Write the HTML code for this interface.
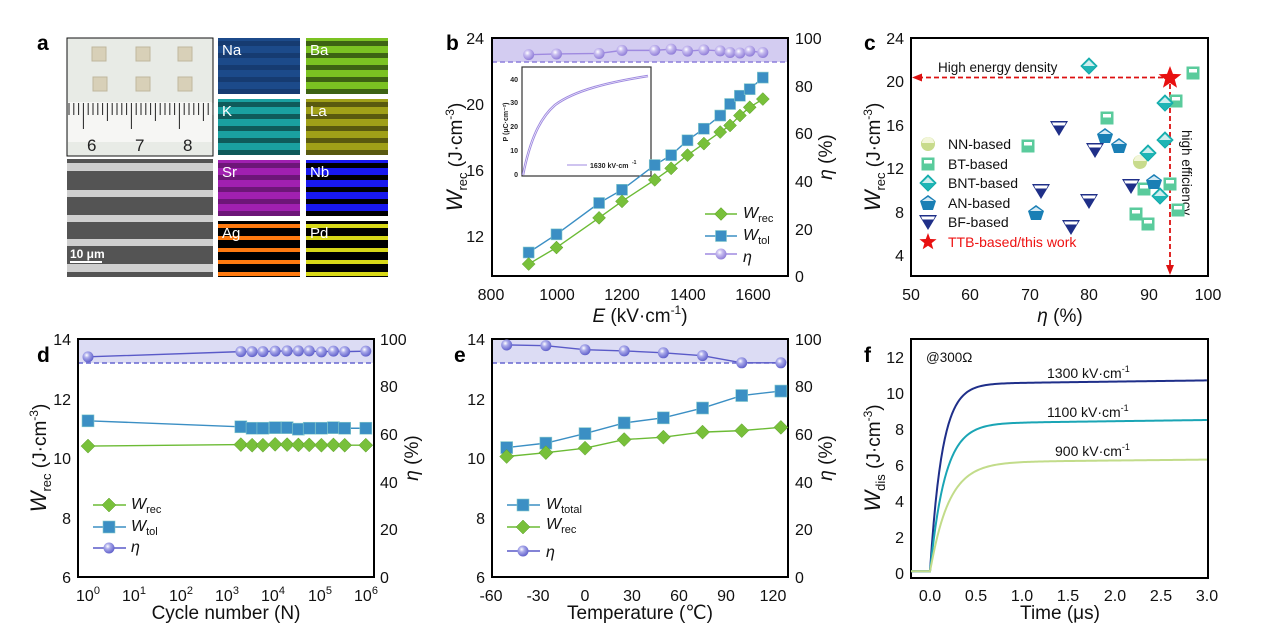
<!DOCTYPE html>
<html><head><meta charset="utf-8"><style>
html,body{margin:0;padding:0;background:#fff}
svg{display:block;font-family:"Liberation Sans",Arial,sans-serif}
.t{font-size:16px;fill:#111}
.ti{font-size:19px;fill:#111}
.lg{font-size:14px;fill:#111}
.pl{font-size:21px;font-weight:bold;fill:#000}
.ax{fill:none;stroke:#000;stroke-width:2}
</style></head><body>
<svg id="s" width="1269" height="634" viewBox="0 0 1269 634" xmlns="http://www.w3.org/2000/svg">
<defs>
<radialGradient id="gp" cx="0.38" cy="0.35" r="0.7"><stop offset="0" stop-color="#fff"/><stop offset="0.35" stop-color="#c8bdf0"/><stop offset="1" stop-color="#8b78d6"/></radialGradient>
<radialGradient id="gb" cx="0.38" cy="0.35" r="0.7"><stop offset="0" stop-color="#fff"/><stop offset="0.35" stop-color="#a9a9ea"/><stop offset="1" stop-color="#5a5ac8"/></radialGradient>
</defs>
<!-- panel a -->
<text class="pl" x="37" y="50">a</text>
<rect x="67" y="38" width="146" height="118" fill="#e8ebe6" stroke="#111" stroke-width="1"/>
<rect x="68" y="102" width="144" height="40" fill="#f6f6f4"/>
<g fill="#d8d0b8" stroke="#bfb79e"><rect x="92" y="47" width="14" height="14"/><rect x="136" y="47" width="14" height="14"/><rect x="178" y="47" width="14" height="14"/><rect x="93" y="77" width="14" height="14"/><rect x="136" y="77" width="14" height="14"/><rect x="178" y="77" width="14" height="14"/></g>
<g id="ruler" stroke="#222" stroke-width="1"></g>
<g font-size="17" fill="#222"><text x="87" y="151">6</text><text x="135" y="151">7</text><text x="183" y="151">8</text></g>
<rect x="67" y="159" width="146" height="118" fill="#545454"/>
<g fill="#cfcfcf"><rect x="67" y="163" width="146" height="8"/><rect x="67" y="190" width="146" height="7"/><rect x="67" y="215" width="146" height="7"/><rect x="67" y="239" width="146" height="7"/><rect x="67" y="264" width="146" height="8"/></g>
<text x="70" y="258" font-size="12" font-weight="bold" fill="#fff">10 μm</text>
<rect x="70" y="261" width="32" height="2" fill="#fff"/>
<g id="maps"></g>
<!-- panel b -->
<text class="pl" x="446" y="50">b</text>
<rect x="492" y="38" width="296" height="24" fill="#d3ccf1"/>
<line x1="492" y1="62" x2="788" y2="62" stroke="#8d7fdc" stroke-width="1.5" stroke-dasharray="5,3"/>
<rect x="522" y="67" width="129" height="109" fill="#fff" stroke="#333" stroke-width="1.2"/>
<path d="M523,175 C530,140 540,118 555,105 C575,90 610,82 648,76" fill="none" stroke="#9f8ae0" stroke-width="2.5"/>
<path d="M523,175 C530,140 540,118 555,105 C575,90 610,82 648,76" fill="none" stroke="#fff" stroke-width="0.6"/>
<g font-size="7" font-weight="bold" fill="#222"><text x="518" y="177" text-anchor="end">0</text><text x="518" y="153" text-anchor="end">10</text><text x="518" y="129" text-anchor="end">20</text><text x="518" y="105" text-anchor="end">30</text><text x="518" y="82" text-anchor="end">40</text>
<text x="590" y="168">1630 kV·cm</text><text x="632" y="164" font-size="5">-1</text>
<text transform="translate(508,122) rotate(-90)" font-size="7" text-anchor="middle">P (μC·cm⁻²)</text></g>
<line x1="567" y1="165" x2="587" y2="165" stroke="#9f8ae0" stroke-width="1"/>
<rect class="ax" x="492" y="38" width="296" height="238"/>
<g class="t" text-anchor="end"><text x="484" y="44">24</text><text x="484" y="110">20</text><text x="484" y="176">16</text><text x="484" y="242">12</text></g>
<g class="t"><text x="795" y="44">100</text><text x="795" y="92">80</text><text x="795" y="139">60</text><text x="795" y="187">40</text><text x="795" y="235">20</text><text x="795" y="282">0</text></g>
<g class="t" text-anchor="middle"><text x="491" y="300">800</text><text x="557" y="300">1000</text><text x="622" y="300">1200</text><text x="688" y="300">1400</text><text x="753" y="300">1600</text></g>
<text class="ti" x="640" y="322" text-anchor="middle"><tspan font-style="italic">E</tspan> (kV·cm<tspan font-size="12" dy="-8">-1</tspan><tspan dy="8">)</tspan></text>
<text class="ti" transform="translate(462,157) rotate(-90)" text-anchor="middle"><tspan font-style="italic" font-size="22">W</tspan><tspan font-size="13" dy="5">rec</tspan><tspan dy="-5"> (J·cm</tspan><tspan font-size="12" dy="-8">-3</tspan><tspan dy="8">)</tspan></text>
<text class="ti" transform="translate(832,157) rotate(-90)" text-anchor="middle"><tspan font-style="italic">η</tspan> (%)</text>
<g class="lg"><text x="743" y="218" font-style="italic" font-size="16">W<tspan font-size="11" font-style="normal" dy="4">rec</tspan></text><text x="743" y="240" font-style="italic" font-size="16">W<tspan font-size="11" font-style="normal" dy="4">tol</tspan></text><text x="743" y="262" font-style="italic" font-size="16">η</text></g>
<g id="gb_"></g>
<!-- panel c -->
<text class="pl" x="864" y="50">c</text>
<rect class="ax" x="911" y="38" width="297" height="238"/>
<g class="t" text-anchor="end"><text x="904" y="44">24</text><text x="904" y="87">20</text><text x="904" y="131">16</text><text x="904" y="174">12</text><text x="904" y="218">8</text><text x="904" y="261">4</text></g>
<g class="t" text-anchor="middle"><text x="911" y="300">50</text><text x="970" y="300">60</text><text x="1030" y="300">70</text><text x="1089" y="300">80</text><text x="1149" y="300">90</text><text x="1208" y="300">100</text></g>
<text class="ti" x="1060" y="322" text-anchor="middle"><tspan font-style="italic">η</tspan> (%)</text>
<text class="ti" transform="translate(880,157) rotate(-90)" text-anchor="middle"><tspan font-style="italic" font-size="22">W</tspan><tspan font-size="13" dy="5">rec</tspan><tspan dy="-5"> (J·cm</tspan><tspan font-size="12" dy="-8">-3</tspan><tspan dy="8">)</tspan></text>
<text x="938" y="72" font-size="13.5" fill="#111">High energy density</text>
<text transform="translate(1182,130) rotate(90)" font-size="13.5" fill="#111">high efficiency</text>
<g stroke="#d11" stroke-width="1.8" stroke-dasharray="5,3" fill="none"><line x1="918" y1="77.5" x2="1166" y2="77.5"/><line x1="1170" y1="84" x2="1170" y2="268"/></g>
<polygon points="912,77.5 922,73.5 922,81.5" fill="#d11"/><polygon points="1170,275 1166,265 1174,265" fill="#d11"/>
<g class="lg"><text x="948" y="149">NN-based</text><text x="948" y="169">BT-based</text><text x="948" y="188">BNT-based</text><text x="948" y="208">AN-based</text><text x="948" y="227">BF-based</text><text x="948" y="247" fill="#e11">TTB-based/this work</text></g>
<g id="gc"></g>
<!-- panel d -->
<text class="pl" x="37" y="362">d</text>
<rect x="78" y="339" width="296" height="24" fill="#dcdcf4"/>
<line x1="78" y1="363" x2="374" y2="363" stroke="#6666d0" stroke-width="1.5" stroke-dasharray="5,3"/>
<rect class="ax" x="78" y="339" width="296" height="238"/>
<g class="t" text-anchor="end"><text x="71" y="345">14</text><text x="71" y="405">12</text><text x="71" y="464">10</text><text x="71" y="524">8</text><text x="71" y="583">6</text></g>
<g class="t"><text x="380" y="345">100</text><text x="380" y="392">80</text><text x="380" y="440">60</text><text x="380" y="488">40</text><text x="380" y="535">20</text><text x="380" y="583">0</text></g>
<g class="t" text-anchor="middle"><text x="88" y="601">10<tspan font-size="11" dy="-7">0</tspan></text><text x="134" y="601">10<tspan font-size="11" dy="-7">1</tspan></text><text x="181" y="601">10<tspan font-size="11" dy="-7">2</tspan></text><text x="227" y="601">10<tspan font-size="11" dy="-7">3</tspan></text><text x="273" y="601">10<tspan font-size="11" dy="-7">4</tspan></text><text x="320" y="601">10<tspan font-size="11" dy="-7">5</tspan></text><text x="366" y="601">10<tspan font-size="11" dy="-7">6</tspan></text></g>
<text class="ti" x="226" y="619" text-anchor="middle">Cycle number (N)</text>
<text class="ti" transform="translate(46,458) rotate(-90)" text-anchor="middle"><tspan font-style="italic" font-size="22">W</tspan><tspan font-size="13" dy="5">rec</tspan><tspan dy="-5"> (J·cm</tspan><tspan font-size="12" dy="-8">-3</tspan><tspan dy="8">)</tspan></text>
<text class="ti" transform="translate(418,458) rotate(-90)" text-anchor="middle"><tspan font-style="italic">η</tspan> (%)</text>
<g class="lg"><text x="131" y="509" font-style="italic" font-size="16">W<tspan font-size="11" font-style="normal" dy="4">rec</tspan></text><text x="131" y="531" font-style="italic" font-size="16">W<tspan font-size="11" font-style="normal" dy="4">tol</tspan></text><text x="131" y="552" font-style="italic" font-size="16">η</text></g>
<g id="gd"></g>
<!-- panel e -->
<text class="pl" x="454" y="362">e</text>
<rect x="492" y="339" width="296" height="24" fill="#dcdcf4"/>
<line x1="492" y1="363" x2="788" y2="363" stroke="#6666d0" stroke-width="1.5" stroke-dasharray="5,3"/>
<rect class="ax" x="492" y="339" width="296" height="238"/>
<g class="t" text-anchor="end"><text x="485" y="345">14</text><text x="485" y="405">12</text><text x="485" y="464">10</text><text x="485" y="524">8</text><text x="485" y="583">6</text></g>
<g class="t"><text x="795" y="345">100</text><text x="795" y="392">80</text><text x="795" y="440">60</text><text x="795" y="488">40</text><text x="795" y="535">20</text><text x="795" y="583">0</text></g>
<g class="t" text-anchor="middle"><text x="491" y="601">-60</text><text x="538" y="601">-30</text><text x="585" y="601">0</text><text x="632" y="601">30</text><text x="679" y="601">60</text><text x="726" y="601">90</text><text x="773" y="601">120</text></g>
<text class="ti" x="640" y="619" text-anchor="middle">Temperature (℃)</text>
<text class="ti" transform="translate(832,458) rotate(-90)" text-anchor="middle"><tspan font-style="italic">η</tspan> (%)</text>
<g class="lg"><text x="546" y="509" font-style="italic" font-size="16">W<tspan font-size="11" font-style="normal" dy="4">total</tspan></text><text x="546" y="529" font-style="italic" font-size="16">W<tspan font-size="11" font-style="normal" dy="4">rec</tspan></text><text x="546" y="557" font-style="italic" font-size="16">η</text></g>
<g id="ge"></g>
<!-- panel f -->
<text class="pl" x="864" y="362">f</text>
<rect class="ax" x="911" y="339" width="297" height="239"/>
<g class="t" text-anchor="end"><text x="904" y="579">0</text><text x="904" y="543">2</text><text x="904" y="507">4</text><text x="904" y="471">6</text><text x="904" y="435">8</text><text x="904" y="399">10</text><text x="904" y="363">12</text></g>
<g class="t" text-anchor="middle"><text x="930" y="601">0.0</text><text x="976" y="601">0.5</text><text x="1022" y="601">1.0</text><text x="1068" y="601">1.5</text><text x="1115" y="601">2.0</text><text x="1161" y="601">2.5</text><text x="1207" y="601">3.0</text></g>
<text class="ti" x="1060" y="619" text-anchor="middle">Time (μs)</text>
<text class="ti" transform="translate(880,458) rotate(-90)" text-anchor="middle"><tspan font-style="italic" font-size="22">W</tspan><tspan font-size="13" dy="5">dis</tspan><tspan dy="-5"> (J·cm</tspan><tspan font-size="12" dy="-8">-3</tspan><tspan dy="8">)</tspan></text>
<text x="926" y="362" font-size="13.5" fill="#111">@300Ω</text>
<g class="lg"><text x="1047" y="378">1300 kV·cm<tspan font-size="9" dy="-6">-1</tspan></text><text x="1047" y="417">1100 kV·cm<tspan font-size="9" dy="-6">-1</tspan></text><text x="1055" y="456">900 kV·cm<tspan font-size="9" dy="-6">-1</tspan></text></g>
<g id="gf"></g>
</svg>
<script>
const NS="http://www.w3.org/2000/svg";
function el(p,t,a){const e=document.createElementNS(NS,t);for(const k in a)e.setAttribute(k,a[k]);document.getElementById(p).appendChild(e);return e;}
for(let i=0;i<=30;i++){const x=69+i*4.8;const L=(i%10==3)?26:(i%5==3?18:12);el("ruler","line",{x1:x,y1:103,x2:x,y2:103+L});}
const maps=[["Na","#1c4a8a","#123260",218,38,0.6],["Ba","#7bc222","#2e4a10",306,38,0.8],["K","#1aa0a0","#0b3c3c",218,99,0.7],["La","#a0a018","#3a3a0c",306,99,0.7],["Sr","#a020b0","#3a0c40",218,160,0.5],["Nb","#1818ee","#000",306,160,1],["Ag","#000","#ff7a10",218,221,1],["Pd","#000","#d8d818",306,221,1]];
maps.forEach(m=>{el("maps","rect",{x:m[3],y:m[4],width:82,height:56,fill:m[1]});
 const ys=[5,17,29,41,53];ys.forEach(d=>{el("maps","rect",{x:m[3],y:m[4]+d-2,width:82,height:(m[0]=="Ag"||m[0]=="Pd")?4:5,fill:m[2],opacity:m[5]});});
 const t=el("maps","text",{x:m[3]+4,y:m[4]+17,"font-size":15,fill:"#fff"});t.textContent=m[0];});
function dia(g,x,y,r,f){el(g,"polygon",{points:`${x},${y-r} ${x+r},${y} ${x},${y+r} ${x-r},${y}`,fill:f,stroke:"#5a9a2a","stroke-width":0.5});}
function sq(g,x,y,r,f){el(g,"rect",{x:x-r,y:y-r,width:2*r,height:2*r,fill:f,stroke:"#8cc",'stroke-width':0.6});}
function ball(g,x,y,r,f){el(g,"circle",{cx:x,cy:y,r:r,fill:f});}
function line(g,pts,c,w){el(g,"polyline",{points:pts.map(p=>p.join(",")).join(" "),fill:"none",stroke:c,"stroke-width":w||1.4});}
const E=[915,1000,1130,1200,1300,1350,1400,1450,1500,1530,1560,1590,1630];
const Wt=[11.0,12.1,14.0,14.8,16.3,16.9,17.8,18.5,19.3,20.0,20.5,20.9,21.6];
const Wr=[10.3,11.3,13.1,14.1,15.4,16.1,16.9,17.6,18.3,18.7,19.3,19.8,20.3];
const Et=[93,93.3,93.5,94.8,94.8,95.3,94.5,95,94.6,93.9,93.7,94.5,93.9];
const bx=v=>491+(v-800)*0.3275,by=v=>38+(24-v)*16.5,br=v=>276-v*2.38;
let p=E.map((e,i)=>[bx(e),by(Wt[i])]);line("gb_",p,"#3b8fc4");p.forEach(q=>sq("gb_",q[0],q[1],5.5,"#3b8fc4"));
p=E.map((e,i)=>[bx(e),by(Wr[i])]);line("gb_",p,"#6cbb35");p.forEach(q=>dia("gb_",q[0],q[1],6.5,"#78c03a"));
p=E.map((e,i)=>[bx(e),br(Et[i])]);line("gb_",p,"#9f8ae0");p.forEach(q=>ball("gb_",q[0],q[1],5.5,"url(#gp)"));
line("gb_",[[705,214],[737,214]],"#6cbb35");dia("gb_",721,214,6.5,"#78c03a");
line("gb_",[[705,236],[737,236]],"#3b8fc4");sq("gb_",721,236,5.5,"#3b8fc4");
line("gb_",[[705,254],[737,254]],"#9f8ae0");ball("gb_",721,254,5.5,"url(#gp)");
function halfsq(x,y){el("gc","rect",{x:x-6,y:y-6,width:12,height:12,fill:"#5acb9c",stroke:"#5acb9c"});el("gc","rect",{x:x-4,y:y-4,width:8,height:3.5,fill:"#fff"});}
function bnt(x,y){el("gc","polygon",{points:`${x},${y-8} ${x+8},${y} ${x},${y+8} ${x-8},${y}`,fill:"#1fb5b5",stroke:"#1aa"});el("gc","polygon",{points:`${x},${y-6} ${x+6},${y} ${x-6},${y}`,fill:"#cfeeee"});}
function an(x,y){el("gc","polygon",{points:`${x},${y-8} ${x+8},${y-2} ${x+5},${y+7} ${x-5},${y+7} ${x-8},${y-2}`,fill:"#1a7fb5"});el("gc","polygon",{points:`${x},${y-6} ${x+6},${y-2} ${x-6},${y-2}`,fill:"#d5eaf5"});}
function bf(x,y){el("gc","polygon",{points:`${x-9},${y-7} ${x+9},${y-7} ${x},${y+8}`,fill:"#1f2f88"});el("gc","polygon",{points:`${x-7},${y-5.5} ${x+7},${y-5.5} ${x+5.5},${y-2.5} ${x-5.5},${y-2.5}`,fill:"#fff"});}
function nn(x,y){el("gc","circle",{cx:x,cy:y,r:7,fill:"#c8db8c"});el("gc","path",{d:`M${x-6},${y-1} A6,6 0 0 1 ${x+6},${y-1} Z`,fill:"#f3f6da"});}
nn(1140,162);[[1028,146],[1107,118],[1193,73],[1176,101],[1170,184],[1144,189],[1136,214],[1148,224],[1178,210]].forEach(q=>halfsq(q[0],q[1]));
[[1089,66],[1165,103],[1165,140],[1148,153],[1160,196]].forEach(q=>bnt(q[0],q[1]));
[[1105,136],[1119,146],[1154,182],[1036,213]].forEach(q=>an(q[0],q[1]));
[[1059,128],[1095,150],[1041,191],[1131,186],[1089,201],[1071,227]].forEach(q=>bf(q[0],q[1]));
nn(928,144);halfsq(928,164);bnt(928,183);an(928,203);bf(928,222);
function star(g,x,y,R,f){let s="";for(let i=0;i<10;i++){const r=i%2?R*0.42:R,a=-Math.PI/2+i*Math.PI/5;s+=(x+r*Math.cos(a))+","+(y+r*Math.sin(a))+" ";}el(g,"polygon",{points:s,fill:f});}
star("gc",1170,78,12,"#e81010");star("gc",928,242,9,"#e81010");
const N=[0,Math.log10(2e3),Math.log10(3.5e3),Math.log10(6e3),Math.log10(1.1e4),Math.log10(2e4),Math.log10(3.5e4),Math.log10(6e4),Math.log10(1.1e5),Math.log10(2e5),Math.log10(3.5e5),6];
const dx=v=>88+v*46.3,dy=v=>339+(14-v)*29.75,dr=v=>577-v*2.38;
const dT=[11.25,11.05,11.0,11.0,11.02,11.02,10.97,11.0,11.0,11.02,11.0,11.0];
const dR=[10.4,10.45,10.43,10.43,10.46,10.45,10.44,10.44,10.43,10.44,10.43,10.43];
const dE=[92.5,94.7,94.7,94.7,94.9,95,95,95,94.6,94.9,94.7,94.9];
p=N.map((n,i)=>[dx(n),dy(dT[i])]);line("gd",p,"#3b8fc4");p.forEach(q=>sq("gd",q[0],q[1],6,"#3b8fc4"));
p=N.map((n,i)=>[dx(n),dy(dR[i])]);line("gd",p,"#6cbb35");p.forEach(q=>dia("gd",q[0],q[1],7,"#78c03a"));
p=N.map((n,i)=>[dx(n),dr(dE[i])]);line("gd",p,"#5a5ac8");p.forEach(q=>ball("gd",q[0],q[1],5.5,"url(#gb)"));
line("gd",[[93,505],[126,505]],"#6cbb35");dia("gd",109,505,7,"#78c03a");
line("gd",[[93,527],[126,527]],"#3b8fc4");sq("gd",109,527,6,"#3b8fc4");
line("gd",[[93,548],[126,548]],"#5a5ac8");ball("gd",109,548,5.5,"url(#gb)");
const T=[-50,-25,0,25,50,75,100,125];const ex=v=>491+(v+60)*1.567;
const eT=[10.35,10.5,10.82,11.18,11.35,11.68,12.1,12.25],eR=[10.05,10.18,10.33,10.62,10.7,10.87,10.92,11.03],eE=[97.5,97.2,95.5,95,94.2,93,90,90];
p=T.map((t,i)=>[ex(t),dy(eT[i])]);line("ge",p,"#3b8fc4");p.forEach(q=>sq("ge",q[0],q[1],6,"#3b8fc4"));
p=T.map((t,i)=>[ex(t),dy(eR[i])]);line("ge",p,"#6cbb35");p.forEach(q=>dia("ge",q[0],q[1],7,"#78c03a"));
p=T.map((t,i)=>[ex(t),dr(eE[i])]);line("ge",p,"#5a5ac8");p.forEach(q=>ball("ge",q[0],q[1],5.5,"url(#gb)"));
line("ge",[[507,505],[540,505]],"#3b8fc4");sq("ge",523,505,6,"#3b8fc4");
line("ge",[[507,527],[540,527]],"#6cbb35");dia("ge",523,527,7,"#78c03a");
line("ge",[[507,551],[540,551]],"#5a5ac8");ball("ge",523,551,5.5,"url(#gb)");
const fx=t=>930+t*92.3,fy=v=>573-v*18;
[[10.5,0.2,0.13,"#1f2f8a"],[8.3,0.2,0.16,"#1aa5b5"],[6.15,0.15,0.2,"#c2dc8a"]].forEach(c=>{let pts=[[911,fy(0.1)],[fx(0),fy(0.1)]];for(let t=0;t<=3.0001;t+=0.02){pts.push([fx(t),fy(c[0]*(1-Math.exp(-t/c[2]))+c[1]*t/3+0.1*Math.exp(-t/0.02))]);}line("gf",pts,c[3],2);});
</script>
</body></html>
